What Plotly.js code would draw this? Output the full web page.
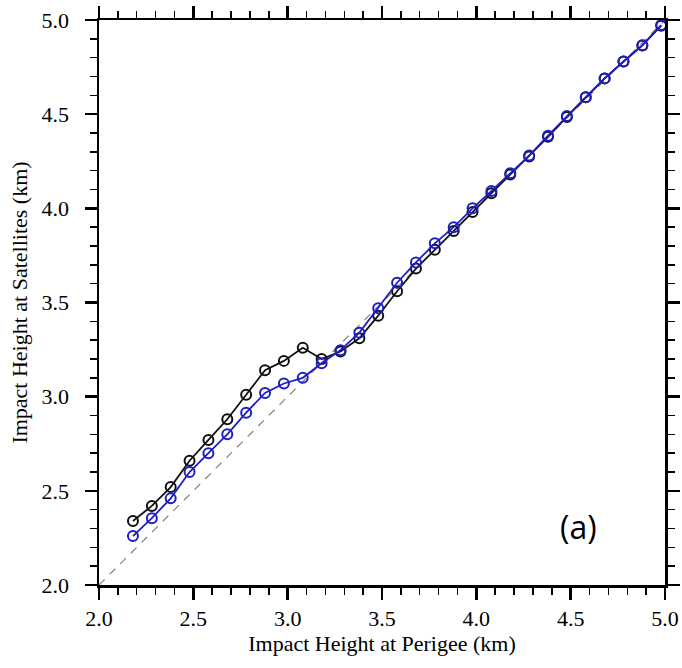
<!DOCTYPE html>
<html>
<head>
<meta charset="utf-8">
<script src="https://cdn.plot.ly/plotly-3.0.1.min.js"></script>
<style>html,body{margin:0;padding:0;background:#fff;}#chart{width:682px;height:668px;}</style>
</head>
<body>
<div id="chart"></div>
<script>
const perigee = [2.18,2.28,2.38,2.48,2.58,2.68,2.78,2.88,2.98,3.08,3.18,3.28,3.38,3.48,3.58,3.68,3.78,3.88,3.98,4.08,4.18,4.28,4.38,4.48,4.58,4.68,4.78,4.88,4.98];
const satBlack = [2.34,2.42,2.52,2.66,2.77,2.88,3.01,3.14,3.19,3.26,3.20,3.24,3.31,3.43,3.56,3.68,3.78,3.88,3.98,4.08,4.18,4.275,4.38,4.485,4.59,4.69,4.78,4.865,4.97];
const satBlue  = [2.26,2.355,2.46,2.60,2.70,2.80,2.915,3.02,3.07,3.10,3.177,3.247,3.34,3.47,3.605,3.713,3.814,3.90,4.00,4.092,4.186,4.28,4.386,4.49,4.59,4.69,4.78,4.866,4.973];
const diag = [2.0,5.0];
const panelLabel = "(a)";

const traces = [
  {x: diag, y: diag, mode: 'lines', line: {color: '#808080', width: 1.2, dash: '8px,7px'}, hoverinfo: 'skip'},
  {x: perigee, y: satBlack, mode: 'lines+markers',
   line: {color: '#111111', width: 1.8},
   marker: {symbol: 'circle-open', size: 10, color: '#111111', line: {width: 2, color: '#111111'}}},
  {x: perigee, y: satBlue, mode: 'lines+markers',
   line: {color: '#1e1ec4', width: 1.8},
   marker: {symbol: 'circle-open', size: 10, color: '#1e1ec4', line: {width: 2, color: '#1e1ec4'}}}
];

const axisCommon = {
  range: [2.0, 5.0], dtick: 0.5, tick0: 2.0, tickformat: '.1f',
  showline: true, linecolor: '#000', linewidth: 2.5, mirror: 'allticks',
  ticks: 'outside', ticklen: 12, tickwidth: 2.5, tickcolor: '#000',
  showgrid: false, zeroline: false,
  minor: {dtick: 0.1, ticks: 'outside', ticklen: 7, tickwidth: 1.5, tickcolor: '#000', showgrid: false}
};

const layout = {
  width: 682, height: 668,
  margin: {l: 99, r: 17, t: 20, b: 83},
  paper_bgcolor: '#fff', plot_bgcolor: '#fff',
  showlegend: false,
  xaxis: Object.assign({}, axisCommon, {
    tickfont: {family: 'Liberation Serif', size: 22, color: '#000'},
    ticklabelstandoff: 0,
    title: {text: 'Impact Height at Perigee (km)', font: {family: 'Liberation Serif', size: 22, color: '#000'}, standoff: 6}
  }),
  yaxis: Object.assign({}, axisCommon, {
    tickfont: {family: 'Liberation Serif', size: 22, color: '#000'},
    ticklabelstandoff: 11,
    title: {text: 'Impact Height at Satellites (km)', font: {family: 'Liberation Serif', size: 22, color: '#000'}, standoff: 8}
  }),
  annotations: [{
    text: panelLabel, xref: 'x', yref: 'y', x: 4.54, y: 2.31, showarrow: false,
    font: {family: 'Open Sans', size: 32, color: '#000'}
  }]
};

Plotly.newPlot('chart', traces, layout, {displayModeBar: false, staticPlot: true});
</script>
</body>
</html>
